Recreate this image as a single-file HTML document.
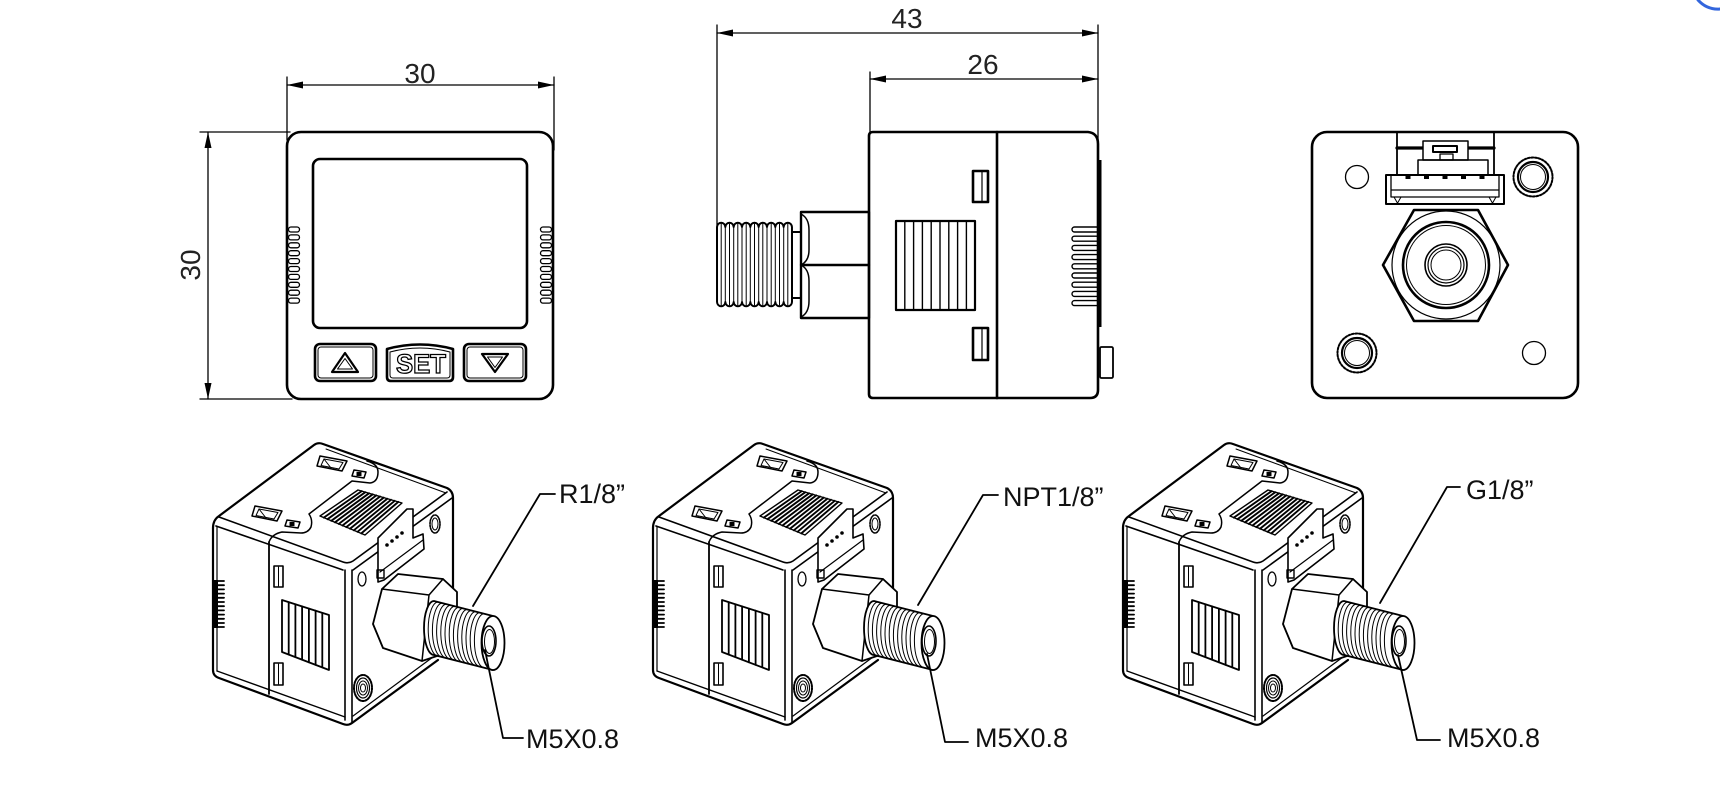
<!DOCTYPE html>
<html><head><meta charset="utf-8"><style>
html,body{margin:0;padding:0;background:#fff;}
svg{display:block;}
text{font-family:"Liberation Sans",Arial,sans-serif;}
</style></head><body>
<svg width="1720" height="786" viewBox="0 0 1720 786" xmlns="http://www.w3.org/2000/svg">
<rect width="1720" height="786" fill="#fff"/>
<g fill="none" stroke="#000" stroke-linejoin="round" stroke-linecap="round">

<!-- ===== FRONT VIEW ===== -->
<g stroke-width="1.3">
<line x1="287" y1="77" x2="287" y2="140"/>
<line x1="554" y1="77" x2="554" y2="150"/>
<line x1="287" y1="85" x2="554" y2="85"/>
<line x1="200" y1="132" x2="290" y2="132"/>
<line x1="200" y1="399" x2="292" y2="399"/>
<line x1="208" y1="132" x2="208" y2="399"/>
</g>
<g fill="#000" stroke="none">
<path d="M287,85 l16,-3.5 v7z"/>
<path d="M554,85 l-16,-3.5 v7z"/>
<path d="M208,132 l-3.5,16 h7z"/>
<path d="M208,399 l-3.5,-16 h7z"/>
</g>
<rect x="287" y="132" width="266" height="267" rx="14" stroke-width="2.6"/>
<rect x="313" y="159" width="214" height="169" rx="7" stroke-width="2.6"/>
<g stroke-width="1.3">
<rect x="288.5" y="227" width="11" height="5" rx="2.5"/>
<rect x="288.5" y="234.9" width="11" height="5" rx="2.5"/>
<rect x="288.5" y="242.8" width="11" height="5" rx="2.5"/>
<rect x="288.5" y="250.7" width="11" height="5" rx="2.5"/>
<rect x="288.5" y="258.6" width="11" height="5" rx="2.5"/>
<rect x="288.5" y="266.5" width="11" height="5" rx="2.5"/>
<rect x="288.5" y="274.4" width="11" height="5" rx="2.5"/>
<rect x="288.5" y="282.3" width="11" height="5" rx="2.5"/>
<rect x="288.5" y="290.2" width="11" height="5" rx="2.5"/>
<rect x="288.5" y="298.1" width="11" height="5" rx="2.5"/>
<rect x="540.5" y="227" width="11" height="5" rx="2.5"/>
<rect x="540.5" y="234.9" width="11" height="5" rx="2.5"/>
<rect x="540.5" y="242.8" width="11" height="5" rx="2.5"/>
<rect x="540.5" y="250.7" width="11" height="5" rx="2.5"/>
<rect x="540.5" y="258.6" width="11" height="5" rx="2.5"/>
<rect x="540.5" y="266.5" width="11" height="5" rx="2.5"/>
<rect x="540.5" y="274.4" width="11" height="5" rx="2.5"/>
<rect x="540.5" y="282.3" width="11" height="5" rx="2.5"/>
<rect x="540.5" y="290.2" width="11" height="5" rx="2.5"/>
<rect x="540.5" y="298.1" width="11" height="5" rx="2.5"/>
</g>
<rect x="315" y="344" width="61" height="37" rx="5" stroke-width="2.6"/>
<rect x="318" y="347" width="55" height="31" rx="3" stroke-width="1"/>
<path d="M387,349 Q420,340 453,349 L453,377 Q453,381 449,381 L391,381 Q387,381 387,377 Z" stroke-width="2.6"/>
<path d="M390,352 Q420,344 450,352 L450,375 Q450,378 447,378 L393,378 Q390,378 390,375 Z" stroke-width="1"/>
<rect x="464" y="344" width="62" height="37" rx="5" stroke-width="2.6"/>
<rect x="467" y="347" width="56" height="31" rx="3" stroke-width="1"/>
<path d="M345,353 L332,372 L358,372 Z" stroke-width="2.2"/>
<path d="M345,358.5 L337.5,369 L352.5,369 Z" stroke-width="1"/>
<path d="M482,354 L508,354 L495,372 Z" stroke-width="2.2"/>
<path d="M487.5,357 L502.5,357 L495,367.5 Z" stroke-width="1"/>

<!-- ===== SIDE VIEW ===== -->
<g stroke-width="1.3">
<line x1="717" y1="25" x2="717" y2="225"/>
<line x1="1098" y1="25" x2="1098" y2="140"/>
<line x1="870" y1="72" x2="870" y2="132"/>
<line x1="717" y1="33" x2="1098" y2="33"/>
<line x1="870" y1="79" x2="1098" y2="79"/>
</g>
<g fill="#000" stroke="none">
<path d="M717,33 l16,-3.5 v7z"/>
<path d="M1098,33 l-16,-3.5 v7z"/>
<path d="M870,79 l16,-3.5 v7z"/>
<path d="M1098,79 l-16,-3.5 v7z"/>
</g>
<path d="M869,136 Q869,132 873,132 L1088,132 Q1098,133 1098,144 L1098,390 Q1098,398 1090,398 L873,398 Q869,398 869,394 Z" stroke-width="2.6"/>
<line x1="997" y1="132" x2="997" y2="398" stroke-width="2.6"/>
<rect x="1098" y="160" width="3.5" height="167" fill="#000" stroke="none"/>
<rect x="1100" y="347" width="13" height="31" rx="1.5" stroke-width="1.8"/>
<rect x="973" y="171" width="15" height="31" stroke-width="2.6"/>
<line x1="982" y1="171" x2="982" y2="202" stroke-width="1.2"/>
<rect x="973" y="328" width="15" height="32" stroke-width="2.6"/>
<line x1="982" y1="328" x2="982" y2="360" stroke-width="1.2"/>
<rect x="896" y="221" width="79" height="89" stroke-width="2.2"/>
<g stroke-width="1.4">
<line x1="904.8" y1="221" x2="904.8" y2="310"/>
<line x1="913.6" y1="221" x2="913.6" y2="310"/>
<line x1="922.4" y1="221" x2="922.4" y2="310"/>
<line x1="931.2" y1="221" x2="931.2" y2="310"/>
<line x1="940" y1="221" x2="940" y2="310"/>
<line x1="948.8" y1="221" x2="948.8" y2="310"/>
<line x1="957.6" y1="221" x2="957.6" y2="310"/>
<line x1="966.4" y1="221" x2="966.4" y2="310"/>
</g>
<g stroke-width="1.4">
<rect x="1072" y="227" width="27" height="5" rx="2.5"/>
<rect x="1072" y="236.2" width="27" height="5" rx="2.5"/>
<rect x="1072" y="245.4" width="27" height="5" rx="2.5"/>
<rect x="1072" y="254.6" width="27" height="5" rx="2.5"/>
<rect x="1072" y="263.8" width="27" height="5" rx="2.5"/>
<rect x="1072" y="273" width="27" height="5" rx="2.5"/>
<rect x="1072" y="282.2" width="27" height="5" rx="2.5"/>
<rect x="1072" y="291.4" width="27" height="5" rx="2.5"/>
<rect x="1072" y="300.6" width="27" height="5" rx="2.5"/>
</g>
<rect x="801" y="212" width="68" height="106" stroke-width="2.4"/>
<line x1="801" y1="265" x2="869" y2="265" stroke-width="2.4"/>
<path d="M801,214 Q809,218 809,230 L809,250 Q809,261 801,265 M801,265 Q809,269 809,281 L809,301 Q809,313 801,317" stroke-width="1.5"/>
<rect x="792" y="232" width="9" height="66" stroke-width="2"/>
<path d="M717,227 a4.17,4.5 0 0 1 8.33,0 a4.17,4.5 0 0 1 8.33,0 a4.17,4.5 0 0 1 8.33,0 a4.17,4.5 0 0 1 8.33,0 a4.17,4.5 0 0 1 8.33,0 a4.17,4.5 0 0 1 8.33,0 a4.17,4.5 0 0 1 8.33,0 a4.17,4.5 0 0 1 8.33,0 a4.17,4.5 0 0 1 8.33,0 L792,302 a4.17,4.5 0 0 1 -8.33,0 a4.17,4.5 0 0 1 -8.33,0 a4.17,4.5 0 0 1 -8.33,0 a4.17,4.5 0 0 1 -8.33,0 a4.17,4.5 0 0 1 -8.33,0 a4.17,4.5 0 0 1 -8.33,0 a4.17,4.5 0 0 1 -8.33,0 a4.17,4.5 0 0 1 -8.33,0 a4.17,4.5 0 0 1 -8.33,0 Z" stroke-width="2"/>
<g stroke-width="1">
<line x1="721.2" y1="224" x2="721.2" y2="305"/><line x1="725.3" y1="227" x2="725.3" y2="302"/>
<line x1="729.5" y1="224" x2="729.5" y2="305"/><line x1="733.7" y1="227" x2="733.7" y2="302"/>
<line x1="737.8" y1="224" x2="737.8" y2="305"/><line x1="742" y1="227" x2="742" y2="302"/>
<line x1="746.2" y1="224" x2="746.2" y2="305"/><line x1="750.3" y1="227" x2="750.3" y2="302"/>
<line x1="754.5" y1="224" x2="754.5" y2="305"/><line x1="758.7" y1="227" x2="758.7" y2="302"/>
<line x1="762.8" y1="224" x2="762.8" y2="305"/><line x1="767" y1="227" x2="767" y2="302"/>
<line x1="771.2" y1="224" x2="771.2" y2="305"/><line x1="775.3" y1="227" x2="775.3" y2="302"/>
<line x1="779.5" y1="224" x2="779.5" y2="305"/><line x1="783.7" y1="227" x2="783.7" y2="302"/>
<line x1="787.8" y1="224" x2="787.8" y2="305"/>
</g>

<!-- ===== BACK VIEW ===== -->
<rect x="1312" y="132" width="266" height="266" rx="15" stroke-width="2.6"/>
<line x1="1397" y1="132" x2="1397" y2="175" stroke-width="1.8"/>
<line x1="1494" y1="132" x2="1494" y2="175" stroke-width="1.8"/>
<line x1="1397" y1="148" x2="1494" y2="148" stroke-width="3.2"/>
<rect x="1423" y="141" width="45" height="19" fill="#fff" stroke-width="1.5"/>
<rect x="1433" y="146" width="24" height="6" stroke-width="2"/>
<rect x="1440" y="154" width="13" height="6" stroke-width="1.3"/>
<path d="M1418,175 L1418,160 L1473,160 M1488,175 L1488,160 L1468,160" stroke-width="1.5"/>
<rect x="1386" y="175" width="118" height="29" stroke-width="2"/>
<path d="M1391,175 L1391,197 L1499,197 L1499,175 M1391,190 L1499,190" stroke-width="1.3"/>
<path d="M1394,197 L1398,204 M1401,197 L1397,204 M1496,197 L1492,204 M1489,197 L1493,204" stroke-width="1"/>
<g fill="#000" stroke="none">
<rect x="1405.5" y="174" width="5" height="5"/>
<rect x="1424" y="174" width="5" height="5"/>
<rect x="1442.5" y="174" width="5" height="5"/>
<rect x="1461" y="174" width="5" height="5"/>
<rect x="1479.5" y="174" width="5" height="5"/>
</g>
<circle cx="1357" cy="177" r="11.5" stroke-width="1.3"/>
<circle cx="1534" cy="353" r="11.5" stroke-width="1.3"/>
<circle cx="1533" cy="177" r="19.5" stroke-width="2" stroke-dasharray="2 1.6"/>
<circle cx="1533" cy="177" r="15" stroke-width="2.2"/>
<circle cx="1533" cy="177" r="12.5" stroke-width="1"/>
<circle cx="1357" cy="353" r="19.5" stroke-width="2" stroke-dasharray="2 1.6"/>
<circle cx="1357" cy="353" r="15" stroke-width="2.2"/>
<circle cx="1357" cy="353" r="12.5" stroke-width="1"/>
<polygon points="1383,265 1414,210 1478,210 1508,265 1478,321 1414,321" stroke-width="2.6"/>
<circle cx="1446" cy="265" r="54" stroke-width="1.2"/>
<circle cx="1446" cy="265" r="43" stroke-width="2.6"/>
<circle cx="1446" cy="265" r="39.5" stroke-width="1"/>
<circle cx="1446" cy="265" r="21" stroke-width="1.6"/>
<circle cx="1446" cy="265" r="18" stroke-width="1.2"/>
<circle cx="1446" cy="265" r="15" stroke-width="1"/>

<!-- ===== ISOMETRIC VIEW ===== -->
<g id="iso">
<path d="M213,528 Q213,520 219,516 L314,445 Q318,442 323,444 L447,488 Q453,491 453,498 L453,590" stroke-width="2.2"/>
<path d="M213,528 L213,670 Q213,676 219,678 L343,724 Q348,726 352,723 L438,660" stroke-width="2.2"/>
<path d="M326,449 L446,493" stroke-width="1"/>
<path d="M219,517 L343,562 Q348,564 353,561 L447,492" stroke-width="1.6"/>
<path d="M216,526 L343,570" stroke-width="1.6"/>
<path d="M353,570 L452,498" stroke-width="1.6"/>
<path d="M345,570 L345,720" stroke-width="1.6"/>
<path d="M352,570 L352,722" stroke-width="1.6"/>
<path d="M217,527 L217,671" stroke-width="1.2"/>
<path d="M217,671 L345,717" stroke-width="1.4"/>
<path d="M353,716 L433,657" stroke-width="1.2"/>
<path d="M269,542 L269,694" stroke-width="1.8"/>
<path d="M367,461 Q378,464 378,472 Q378,482 370,483 L352,481 L309,514 Q313,520 311,527 Q308,533 301,533 L282,532 Q272,534 269,542" stroke-width="1.5"/>
<polygon points="320,456 347,461 342,471 317,466" stroke-width="1.5"/>
<polygon points="324,459 343,462.5 339,469 321,465.5" stroke-width="1"/>
<line x1="324" y1="459" x2="331" y2="468" stroke-width="1"/>
<polygon points="255,506 282,511 277,521 252,516" stroke-width="1.5"/>
<polygon points="259,509 278,512.5 274,519 256,515.5" stroke-width="1"/>
<line x1="259" y1="509" x2="266" y2="518" stroke-width="1"/>
<polygon points="354,470 366,472 364,478 352,476" stroke-width="1.5"/>
<rect x="356.5" y="472" width="5" height="4" fill="#000" stroke="none"/>
<polygon points="287,520 300,522 298,528 285,526" stroke-width="1.5"/>
<rect x="289.5" y="522" width="5" height="4" fill="#000" stroke="none"/>
<polygon points="320,516 358,490 402,503 365,535" stroke-width="1.4"/>
<g stroke-width="1.9">
<line x1="323.8" y1="517.6" x2="361.7" y2="491.1"/>
<line x1="327.5" y1="519.2" x2="365.3" y2="492.2"/>
<line x1="331.3" y1="520.8" x2="369" y2="493.3"/>
<line x1="335" y1="522.3" x2="372.7" y2="494.3"/>
<line x1="338.8" y1="523.9" x2="376.3" y2="495.4"/>
<line x1="342.5" y1="525.5" x2="380" y2="496.5"/>
<line x1="346.3" y1="527.1" x2="383.7" y2="497.6"/>
<line x1="350" y1="528.7" x2="387.3" y2="498.7"/>
<line x1="353.8" y1="530.3" x2="391" y2="499.8"/>
<line x1="357.5" y1="531.8" x2="394.7" y2="500.8"/>
<line x1="361.3" y1="533.4" x2="398.3" y2="501.9"/>
</g>
<path d="M378,538 L407,509 L413,509 L413,538 L423,534 L424,549 L384,580 L378,582 Z" fill="#fff" stroke-width="1.6"/>
<path d="M380,572 L423,540" stroke-width="1.2"/>
<rect x="377" y="570" width="7" height="8" stroke-width="1.4"/>
<g fill="#000" stroke="none">
<circle cx="387" cy="545" r="1.8"/><circle cx="392" cy="541" r="1.8"/><circle cx="397" cy="537" r="1.8"/><circle cx="402" cy="533" r="1.8"/>
</g>
<ellipse cx="362" cy="579" rx="4" ry="7" stroke-width="1.3"/>
<ellipse cx="435" cy="524" rx="5" ry="9" stroke-width="1.6" stroke-dasharray="1.6 1.2"/>
<ellipse cx="435" cy="524" rx="3" ry="6" stroke-width="1"/>
<ellipse cx="363" cy="688" rx="9" ry="13" stroke-width="2" stroke-dasharray="2 1.3"/>
<ellipse cx="363" cy="688" rx="6.5" ry="10" stroke-width="1.2"/>
<ellipse cx="363" cy="688" rx="4.5" ry="7" stroke-width="1"/>
<ellipse cx="363" cy="688" rx="2.5" ry="4" stroke-width="1"/>
<rect x="213" y="580" width="5" height="48" fill="#000" stroke="none"/>
<g stroke-width="1.8">
<line x1="214" y1="581" x2="224" y2="581"/><line x1="214" y1="585.2" x2="224" y2="585.2"/>
<line x1="214" y1="589.4" x2="224" y2="589.4"/><line x1="214" y1="593.6" x2="224" y2="593.6"/>
<line x1="214" y1="597.8" x2="224" y2="597.8"/><line x1="214" y1="602" x2="224" y2="602"/>
<line x1="214" y1="606.2" x2="224" y2="606.2"/><line x1="214" y1="610.4" x2="224" y2="610.4"/>
<line x1="214" y1="614.6" x2="224" y2="614.6"/><line x1="214" y1="618.8" x2="224" y2="618.8"/>
<line x1="214" y1="623" x2="224" y2="623"/><line x1="214" y1="627" x2="224" y2="627"/>
</g>
<rect x="274" y="566" width="9" height="21" stroke-width="1.6"/>
<line x1="278.5" y1="567" x2="278.5" y2="586" stroke-width="1"/>
<rect x="274" y="663" width="9" height="22" stroke-width="1.6"/>
<line x1="278.5" y1="664" x2="278.5" y2="684" stroke-width="1"/>
<polygon points="282,600 329,615 329,670 282,652" stroke-width="1.8"/>
<g stroke-width="1.8">
<line x1="288.7" y1="602.1" x2="288.7" y2="654.6"/>
<line x1="295.4" y1="604.3" x2="295.4" y2="657.1"/>
<line x1="302.1" y1="606.4" x2="302.1" y2="659.7"/>
<line x1="308.9" y1="608.6" x2="308.9" y2="662.3"/>
<line x1="315.6" y1="610.7" x2="315.6" y2="664.9"/>
<line x1="322.3" y1="612.9" x2="322.3" y2="667.4"/>
</g>
<path d="M373,624 L382,589 L398,574 L443,579 L457,592 L457,640 L437,656 L422,661 L383,648 Z" fill="#fff" stroke-width="1.8"/>
<path d="M382,589 L429,595 L443,579 M429,595 L422,661 M373,624 L383,648" stroke-width="1.5"/>
<path d="M434,601 L493,616 L493,670 L434,655 A10,27 0 0 1 434,601 Z" fill="#fff" stroke-width="1.8"/>
<g stroke-width="1">
<path d="M434,601 A10,27 0 0 0 434,655"/>
<path d="M438.2,602 A10,27 0 0 0 438.2,656"/>
<path d="M442.4,603.1 A10,27 0 0 0 442.4,657.1"/>
<path d="M446.6,604.1 A10,27 0 0 0 446.6,658.1"/>
<path d="M450.8,605.2 A10,27 0 0 0 450.8,659.2"/>
<path d="M455,606.2 A10,27 0 0 0 455,660.2"/>
<path d="M459.2,607.3 A10,27 0 0 0 459.2,661.3"/>
<path d="M463.4,608.3 A10,27 0 0 0 463.4,662.3"/>
<path d="M467.6,609.4 A10,27 0 0 0 467.6,663.4"/>
<path d="M471.8,610.4 A10,27 0 0 0 471.8,664.4"/>
<path d="M476,611.5 A10,27 0 0 0 476,665.5"/>
<path d="M480.2,612.5 A10,27 0 0 0 480.2,666.5"/>
<path d="M484.4,613.6 A10,27 0 0 0 484.4,667.6"/>
</g>
<ellipse cx="493" cy="643" rx="11.5" ry="27" fill="#fff" stroke-width="1.8"/>
<ellipse cx="489" cy="641" rx="7" ry="15" stroke-width="1.6"/>
<ellipse cx="489.5" cy="641.5" rx="5" ry="12" stroke-width="1"/>
</g>
<use href="#iso" transform="translate(440,0)"/>
<use href="#iso" transform="translate(910,0)"/>

<!-- leaders -->
<g stroke-width="1.8">
<path d="M473,606 L540,494 L555,494"/>
<path d="M485,650 L503,738 L523,738"/>
<path d="M918,605 L983,495 L998,495"/>
<path d="M927,654 L945,742 L968,742"/>
<path d="M1380,603 L1447,487 L1460,487"/>
<path d="M1398,655 L1417,740 L1440,740"/>
</g>
<path d="M1698,0 Q1707,10 1720,9" stroke="#3366dd" stroke-width="3"/>
</g>

<!-- ===== TEXT ===== -->
<g fill="#222" font-size="28">
<text x="420" y="83" text-anchor="middle">30</text>
<text transform="translate(200,265) rotate(-90)" text-anchor="middle">30</text>
<text x="907" y="28" text-anchor="middle">43</text>
<text x="983" y="74" text-anchor="middle">26</text>
</g>
<text x="421" y="373" font-size="27" font-weight="bold" text-anchor="middle" fill="#fff" stroke="#000" stroke-width="1.3" textLength="50" lengthAdjust="spacingAndGlyphs">SET</text>
<g fill="#111" font-size="27">
<text x="559" y="503">R1/8”</text>
<text x="526" y="748">M5X0.8</text>
<text x="1003" y="506">NPT1/8”</text>
<text x="975" y="747">M5X0.8</text>
<text x="1466" y="499">G1/8”</text>
<text x="1447" y="747">M5X0.8</text>
</g>
</svg>
</body></html>
